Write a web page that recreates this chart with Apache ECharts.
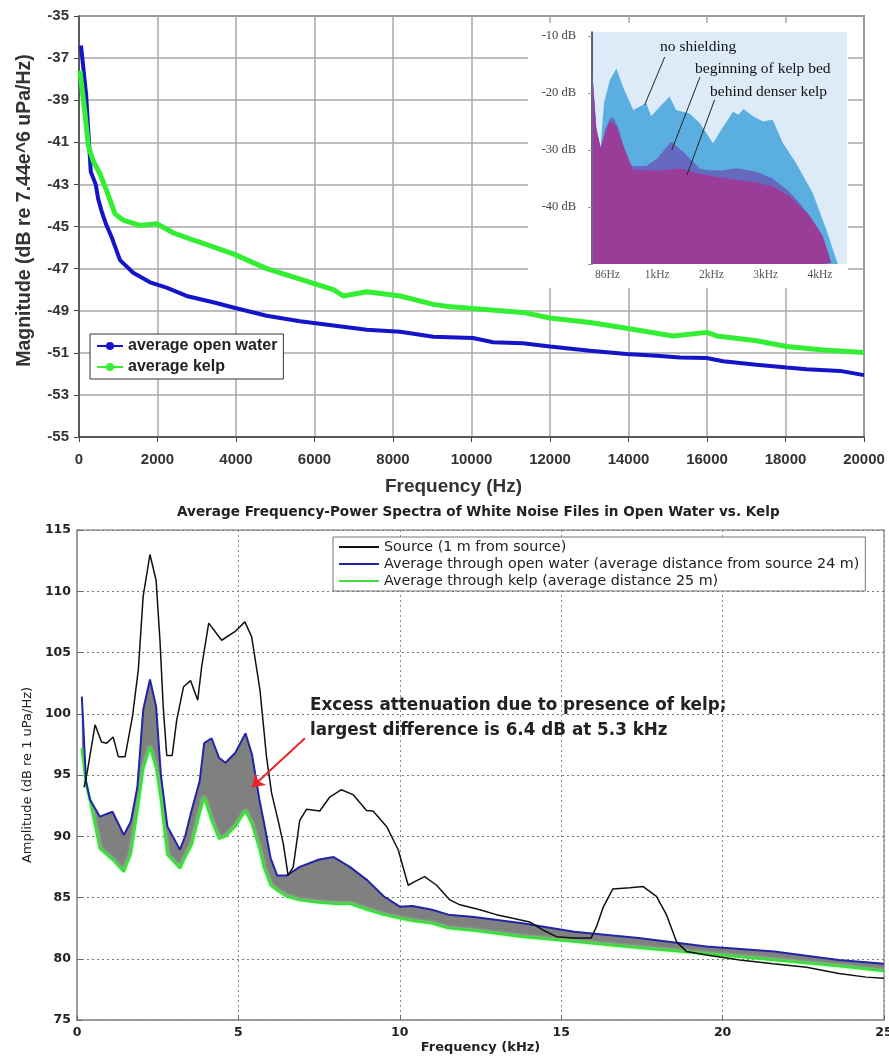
<!DOCTYPE html>
<html>
<head>
<meta charset="utf-8">
<script src="https://cdn.jsdelivr.net/npm/echarts@6/dist/echarts.min.js"></script>
<style>
  html, body { margin: 0; padding: 0; background: #fff; }
  #chart { width: 889px; height: 1057px; }
</style>
</head>
<body>
<div id="chart"></div>
<script>
// --- top panel: average magnitude (Hz, dB) ---
const openFreq = [50, 180, 300, 425, 490, 580, 690, 830, 1045, 1380, 1810, 2230, 2740, 3420, 3930, 4780, 5630, 6480, 7330, 8180, 9030, 10040, 10550, 11310, 12000, 13020, 13950, 14720, 15310, 15990, 16410, 17260, 18030, 18540, 19390, 20000];
const openMag = [-36.4, -38.7, -42.4, -43.0, -43.7, -44.3, -44.9, -45.5, -46.6, -47.2, -47.65, -47.9, -48.3, -48.6, -48.85, -49.24, -49.5, -49.7, -49.9, -50.0, -50.24, -50.3, -50.5, -50.55, -50.7, -50.9, -51.06, -51.14, -51.22, -51.25, -51.4, -51.57, -51.7, -51.78, -51.86, -52.06];
const kelpFreq = [25, 150, 240, 365, 535, 705, 917, 1130, 1550, 1980, 2400, 3000, 3930, 4780, 5630, 6480, 6735, 7330, 8180, 9030, 9400, 10040, 11310, 12000, 13020, 13950, 15140, 15990, 16250, 17260, 18030, 18960, 20000];
const kelpMag = [-37.6, -39.6, -41.2, -41.9, -42.5, -43.3, -44.4, -44.7, -44.95, -44.87, -45.3, -45.7, -46.3, -47.0, -47.5, -48.0, -48.3, -48.1, -48.3, -48.7, -48.8, -48.9, -49.08, -49.35, -49.56, -49.83, -50.2, -50.03, -50.2, -50.43, -50.7, -50.87, -50.98];

// --- inset (kHz, dB) ---
const noShieldFreq = [-0.19, -0.12, -0.04, 0.02, 0.13, 0.25, 0.37, 0.56, 0.80, 0.89, 1.05, 1.23, 1.35, 1.60, 1.79, 2.03, 2.22, 2.40, 2.50, 2.59, 2.77, 2.95, 3.13, 3.32, 3.56, 3.87, 4.12, 4.33];
const noShieldDb = [-17.1, -26, -29.4, -21.8, -17.7, -15.7, -18.9, -23, -21.8, -24.1, -22.4, -20.6, -23, -23.6, -25.3, -28.8, -25.9, -23.3, -23.8, -22.8, -24.1, -25.0, -24.7, -28.8, -32.3, -37.6, -44, -50];
const kelpEdgeFreq = [-0.19, -0.12, -0.04, 0.04, 0.13, 0.2, 0.3, 0.45, 0.56, 0.8, 1.0, 1.26, 1.5, 1.79, 2.0, 2.2, 2.46, 2.83, 3.13, 3.4, 3.6, 3.81, 4.05, 4.21];
const kelpEdgeDb = [-17.1, -26.5, -29.7, -26.5, -24.5, -24.3, -26.5, -32.5, -32.8, -32.8, -31.5, -28.5, -30.5, -33.3, -33.6, -33.6, -33.2, -33.8, -35, -37, -39, -41.5, -45, -49.8];
const denseFreq = [-0.19, -0.12, -0.04, 0.04, 0.13, 0.25, 0.41, 0.56, 1.05, 1.42, 1.79, 2.34, 2.83, 3.13, 3.44, 3.81, 4.05, 4.21];
const denseDb = [-17.1, -26.5, -29.7, -27.1, -25.0, -25.9, -30, -33.5, -33.6, -33.2, -34.2, -35.1, -35.7, -36.4, -38.1, -41.6, -45.1, -49.8];
const insetTicks = [0.086, 1, 2, 3, 4];

// --- bottom panel (kHz, dB re 1 uPa/Hz) ---
const sourceFreq = [0.22, 0.32, 0.56, 0.76, 0.92, 1.12, 1.28, 1.49, 1.72, 1.90, 2.05, 2.26, 2.45, 2.57, 2.67, 2.78, 2.95, 3.09, 3.30, 3.52, 3.74, 3.86, 4.08, 4.48, 4.89, 5.20, 5.41, 5.67, 5.87, 6.03, 6.23, 6.39, 6.54, 6.70, 6.90, 7.11, 7.52, 7.83, 8.19, 8.55, 8.97, 9.17, 9.59, 9.95, 10.26, 10.46, 10.77, 11.14, 11.55, 11.86, 12.48, 12.99, 13.5, 14.02, 14.43, 14.85, 15.37, 15.93, 16.09, 16.3, 16.6, 17.12, 17.53, 17.95, 18.26, 18.57, 18.88, 19.5, 20.53, 21.56, 22.6, 23.6, 24.45, 25];
const sourceAmp = [94.0, 95.3, 99.1, 97.7, 97.6, 98.1, 96.5, 96.5, 99.8, 103.6, 109.6, 113, 110.9, 106, 100.6, 96.6, 96.6, 99.5, 102.2, 102.7, 101.1, 103.8, 107.4, 106.0, 106.7, 107.5, 106.3, 101.9, 96.5, 93.5, 91.3, 89.4, 86.8, 87.5, 91.3, 92.2, 92.06, 93.2, 93.8, 93.4, 92.1, 92.06, 90.8, 88.9, 86.0, 86.3, 86.7, 86.0, 84.8, 84.4, 84.0, 83.6, 83.3, 83.0, 82.35, 81.8, 81.7, 81.7, 82.6, 84.2, 85.7, 85.8, 85.9, 85.1, 83.6, 81.4, 80.6, 80.3, 79.9, 79.6, 79.3, 78.8, 78.5, 78.4];
const bandFreq = [0.15, 0.28, 0.4, 0.71, 1.1, 1.45, 1.67, 1.87, 2.05, 2.26, 2.45, 2.6, 2.8, 3.19, 3.35, 3.55, 3.8, 3.94, 4.17, 4.4, 4.6, 4.9, 5.22, 5.42, 5.65, 5.8, 6.0, 6.2, 6.5, 6.9, 7.5, 7.95, 8.45, 9.0, 9.5, 10.0, 10.4, 11.0, 11.5, 12.3, 13.8, 15.4, 17.4, 19.5, 21.6, 23.6, 25];
const openAmp = [101.4, 94.5, 93.0, 91.6, 92.0, 90.1, 91.2, 94.0, 100.3, 102.8, 100.6, 95.0, 90.8, 88.9, 90.0, 92.1, 94.5, 97.6, 98.0, 96.4, 96.0, 96.8, 98.4, 96.7, 93.0, 91.0, 88.2, 86.8, 86.8, 87.5, 88.1, 88.3, 87.5, 86.4, 85.1, 84.25, 84.3, 84.0, 83.6, 83.4, 82.9, 82.2, 81.7, 81.0, 80.6, 79.9, 79.6];
const kelpAmp = [97.2, 94.3, 93.0, 89.0, 88.1, 87.1, 88.6, 92.1, 95.5, 97.3, 95.6, 93.0, 88.5, 87.4, 88.3, 89.3, 91.9, 93.2, 91.3, 89.8, 90.0, 90.8, 92.1, 91.0, 89.0, 87.4, 86.0, 85.6, 85.1, 84.8, 84.6, 84.5, 84.5, 84.0, 83.6, 83.3, 83.1, 82.9, 82.5, 82.3, 81.8, 81.4, 80.9, 80.4, 79.9, 79.4, 79.0];

const zip = (xs, ys) => xs.map((x, i) => [x, ys[i]]);

const chart = echarts.init(document.getElementById('chart'));

const sans = 'Liberation Sans, Arial, sans-serif';
const mat = 'DejaVu Sans, Verdana, sans-serif';
const serif = 'Liberation Serif, Times New Roman, serif';

// grey fill between open-water and kelp curves
function renderBand(params, api) {
  if (params.dataIndex !== 0) return;
  const upper = bandFreq.map((f, i) => api.coord([f, openAmp[i]]));
  const lower = bandFreq.map((f, i) => api.coord([f, kelpAmp[i]])).reverse();
  return {
    type: 'polygon',
    shape: { points: upper.concat(lower) },
    style: { fill: '#808080' },
    silent: true
  };
}

const option = {
  animation: false,
  backgroundColor: '#fff',
  grid: [
    { left: 79, top: 16, width: 785, height: 421, outerBoundsMode: 'none', show: true, borderColor: '#444', borderWidth: 1.5, backgroundColor: 'transparent' },
    { left: 592, top: 32, width: 255, height: 232, outerBoundsMode: 'none', show: true, borderWidth: 0, backgroundColor: '#dcebf7', z: 2 },
    { left: 77, top: 530, width: 807, height: 490, outerBoundsMode: 'none', show: true, borderColor: '#999', borderWidth: 1.5 }
  ],
  legend: [
    {
      data: ['average open water', 'average kelp'],
      left: 90, top: 334, orient: 'vertical',
      itemWidth: 26, itemHeight: 10, itemGap: 5,
      padding: [4, 6, 4, 6],
      backgroundColor: '#fff', borderColor: '#333', borderWidth: 1,
      textStyle: { fontFamily: sans, fontWeight: 'bold', fontSize: 16, color: '#222' }
    },
    {
      data: ['Source (1 m from source)', 'Average through open water (average distance from source 24 m)', 'Average through kelp (average distance 25 m)'],
      left: 333, top: 537, orient: 'vertical',
      icon: 'rect', itemWidth: 40, itemHeight: 2, itemGap: 3,
      padding: [3, 6, 3, 6],
      backgroundColor: '#fff', borderColor: '#777', borderWidth: 1,
      textStyle: { fontFamily: mat, fontSize: 14.3, color: '#222' }
    }
  ],
  xAxis: [
    {
      gridIndex: 0, type: 'value', min: 0, max: 20000, interval: 2000,
      axisLine: { lineStyle: { color: '#444', width: 1.5 } },
      axisTick: { show: true, length: 5, lineStyle: { color: '#444' } },
      splitLine: { lineStyle: { color: '#a8a8a8', width: 1.5 } },
      axisLabel: { fontFamily: sans, fontWeight: 'bold', fontSize: 15, color: '#333', margin: 15, formatter: v => String(v) },
      name: 'Frequency (Hz)', nameLocation: 'middle', nameGap: 40,
      nameTextStyle: { fontFamily: sans, fontWeight: 'bold', fontSize: 19, color: '#333', padding: [0, 36, 0, 0] }
    },
    {
      gridIndex: 1, type: 'value', min: -0.2, max: 4.5, z: 3,
      axisLine: { show: false }, axisTick: { show: false }, splitLine: { show: false },
      axisLabel: {
        customValues: insetTicks, margin: 5,
        fontFamily: serif, fontSize: 11.5, color: '#555',
        formatter: v => (v < 0.5 ? '86Hz' : v + 'kHz')
      }
    },
    {
      gridIndex: 2, type: 'value', min: 0, max: 25, interval: 5,
      axisLine: { lineStyle: { color: '#999', width: 1.5 } },
      axisTick: { show: true, inside: true, length: 5, lineStyle: { color: '#666' } },
      splitLine: { lineStyle: { color: '#8a8a8a', width: 1, type: [2, 3] } },
      axisLabel: { fontFamily: mat, fontWeight: 'bold', fontSize: 12.5, color: '#222', margin: 6 },
      name: 'Frequency (kHz)', nameLocation: 'middle', nameGap: 21,
      nameTextStyle: { fontFamily: mat, fontWeight: 'bold', fontSize: 13, color: '#222' }
    }
  ],
  yAxis: [
    {
      gridIndex: 0, type: 'value', min: -55, max: -35, interval: 2,
      axisLine: { show: true, lineStyle: { color: '#444', width: 1.5 } },
      axisTick: { show: true, length: 5, lineStyle: { color: '#444' } },
      splitLine: { lineStyle: { color: '#a8a8a8', width: 1.5 } },
      axisLabel: { fontFamily: sans, fontWeight: 'bold', fontSize: 15, color: '#333', margin: 10 },
      name: 'Magnitude (dB re 7.44e^6 uPa/Hz)', nameLocation: 'middle', nameGap: 44,
      nameTextStyle: { fontFamily: sans, fontWeight: 'bold', fontSize: 19.5, color: '#333', padding: [0, 0, 0, 32] }
    },
    {
      gridIndex: 1, type: 'value', min: -50, max: -9.3, interval: 10, z: 3,
      axisLine: { show: true, onZero: false, lineStyle: { color: '#2a3050', width: 1.5 } },
      axisTick: { show: true, length: 4, lineStyle: { color: '#999' } },
      splitLine: { show: false },
      axisLabel: {
        showMaxLabel: false, margin: 16,
        fontFamily: serif, fontSize: 12.5, color: '#444',
        formatter: v => (v === -50 ? '' : v + ' dB')
      }
    },
    {
      gridIndex: 2, type: 'value', min: 75, max: 115, interval: 5,
      axisLine: { show: true, lineStyle: { color: '#999', width: 1.5 } },
      axisTick: { show: true, inside: true, length: 5, lineStyle: { color: '#666' } },
      splitLine: { lineStyle: { color: '#777', width: 1, type: [2, 3] } },
      axisLabel: { fontFamily: mat, fontWeight: 'bold', fontSize: 12.5, color: '#222', margin: 6 },
      name: 'Amplitude (dB re 1 uPa/Hz)', nameLocation: 'middle', nameGap: 37,
      nameTextStyle: { fontFamily: mat, fontSize: 13, color: '#222' }
    }
  ],
  graphic: [
    // white backing behind the inset picture
    { type: 'rect', z: 1, silent: true, shape: { x: 528, y: 23, width: 320, height: 265 }, style: { fill: '#fff' } },
    { type: 'text', z: 10, left: 660, top: 39, style: { text: 'no shielding', font: '15.5px ' + serif, fill: '#111' } },
    { type: 'text', z: 10, left: 695, top: 61, style: { text: 'beginning of kelp bed', font: '15.5px ' + serif, fill: '#111' } },
    { type: 'text', z: 10, left: 710, top: 84, style: { text: 'behind denser kelp', font: '15.5px ' + serif, fill: '#111' } },
    { type: 'text', z: 10, left: 177, top: 505, style: { text: 'Average Frequency-Power Spectra of White Noise Files in Open Water vs. Kelp', font: 'bold 13.6px ' + mat, fill: '#222' } },
    { type: 'text', z: 10, left: 310, top: 693, style: { text: 'Excess attenuation due to presence of kelp;\nlargest difference is 6.4 dB at 5.3 kHz', font: 'bold 16.8px ' + mat, fill: '#222', lineHeight: 25 } }
  ],
  series: [
    {
      name: 'average open water', type: 'line', xAxisIndex: 0, yAxisIndex: 0,
      data: zip(openFreq, openMag), symbol: 'circle', symbolSize: 5, showSymbol: false,
      lineStyle: { color: '#1414c8', width: 4 }, itemStyle: { color: '#1414c8' }
    },
    {
      name: 'average kelp', type: 'line', xAxisIndex: 0, yAxisIndex: 0,
      data: zip(kelpFreq, kelpMag), symbol: 'circle', symbolSize: 5, showSymbol: false,
      lineStyle: { color: '#33ee33', width: 5 }, itemStyle: { color: '#33ee33' }
    },
    {
      name: 'no shielding', type: 'line', xAxisIndex: 1, yAxisIndex: 1, z: 4,
      data: zip(noShieldFreq, noShieldDb), symbol: 'none', silent: true,
      lineStyle: { width: 0 }, areaStyle: { color: '#5aafe0', opacity: 1, origin: 'start' }
    },
    {
      name: 'beginning of kelp bed', type: 'line', xAxisIndex: 1, yAxisIndex: 1, z: 4,
      data: zip(kelpEdgeFreq, kelpEdgeDb), symbol: 'none', silent: true,
      lineStyle: { width: 0 }, areaStyle: { color: '#6669c0', opacity: 1, origin: 'start' }
    },
    {
      name: 'behind denser kelp', type: 'line', xAxisIndex: 1, yAxisIndex: 1, z: 4,
      data: zip(denseFreq, denseDb), symbol: 'none', silent: true,
      lineStyle: { width: 0 }, areaStyle: { color: '#993d99', opacity: 1, origin: 'start' },
      markLine: {
        silent: true, symbol: ['none', 'none'], label: { show: false },
        lineStyle: { color: '#222', width: 1, type: 'solid' },
        data: [
          [{ coord: [1.14, -13.7] }, { coord: [0.77, -22.1] }],
          [{ coord: [1.79, -17.2] }, { coord: [1.27, -30] }],
          [{ coord: [2.06, -21.2] }, { coord: [1.55, -34.4] }]
        ]
      }
    },
    {
      name: 'band', type: 'custom', xAxisIndex: 2, yAxisIndex: 2,
      renderItem: renderBand, data: [[bandFreq[0], openAmp[0]]], silent: true
    },
    {
      name: 'Average through kelp (average distance 25 m)', type: 'line', xAxisIndex: 2, yAxisIndex: 2,
      data: zip(bandFreq, kelpAmp), symbol: 'none',
      lineStyle: { color: '#3cdc3c', width: 2.5, shadowColor: '#8f8', shadowBlur: 3 }, itemStyle: { color: '#3cdc3c' }
    },
    {
      name: 'Average through open water (average distance from source 24 m)', type: 'line', xAxisIndex: 2, yAxisIndex: 2,
      data: zip(bandFreq, openAmp), symbol: 'none',
      lineStyle: { color: '#2424a8', width: 2 }, itemStyle: { color: '#2424a8' }
    },
    {
      name: 'Source (1 m from source)', type: 'line', xAxisIndex: 2, yAxisIndex: 2,
      data: zip(sourceFreq, sourceAmp), symbol: 'none',
      lineStyle: { color: '#111', width: 1.5 }, itemStyle: { color: '#111' },
      markLine: {
        silent: true, symbol: ['none', 'arrow'], symbolSize: 12, label: { show: false },
        lineStyle: { color: '#e8262a', width: 2, type: 'solid' },
        data: [[{ coord: [7.06, 98.0] }, { coord: [5.42, 94.0] }]]
      }
    }
  ]
};

chart.setOption(option);
</script>
</body>
</html>
